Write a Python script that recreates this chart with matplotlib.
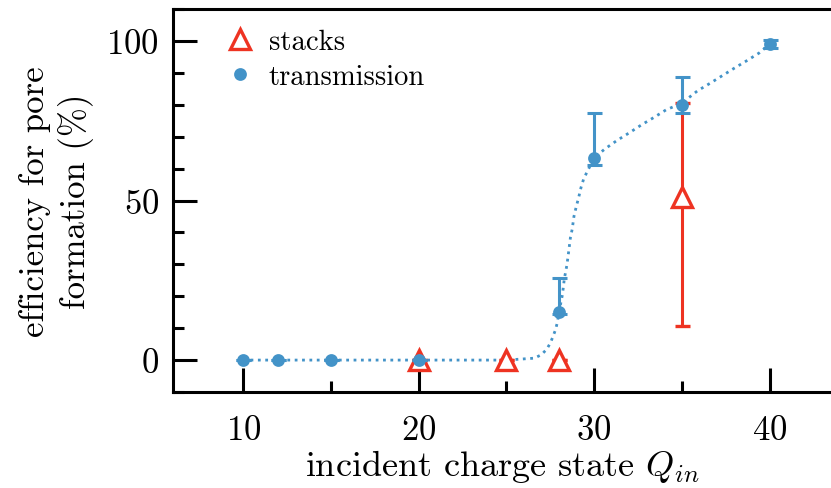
import matplotlib
matplotlib.use('Agg')
import matplotlib.pyplot as plt
from matplotlib.lines import Line2D
from matplotlib.ticker import MultipleLocator

# transmission measurements
trans_q = [10, 12, 15, 20, 28, 30, 35, 40]
trans_eff = [0, 0, 0, 0, 15, 63.3, 80, 99]
trans_err_lo = [0, 0, 0, 0, 0.6, 2.2, 2.6, 1.2]
trans_err_hi = [0, 0, 0, 0, 10.7, 14.1, 8.8, 1.2]

# stacks measurements
stack_q = [20, 25, 28, 35]
stack_eff = [0, 0, 0, 51]
stack_err_lo = [0, 0, 0, 40.4]
stack_err_hi = [0, 0, 0, 29.5]

# dotted guide curve
fit_q = [10, 15, 20, 25, 26.6, 27.0, 27.3, 27.5, 27.65, 27.8, 27.9, 28.0, 28.2, 28.3,
         28.45, 28.55, 28.65, 28.75, 28.85, 29.0, 29.1, 29.25, 29.4, 29.6, 30.0, 30.6,
         31.3, 32.0, 32.7, 33.4, 34.1, 35.0, 35.9, 36.6, 37.3, 38.0, 38.7, 39.4, 40.0]
fit_eff = [0, 0, 0, 0, 0.6, 1.7, 3.4, 5.3, 7.3, 9.5, 11.7, 15, 20.7, 25.4,
           29.8, 34, 38.4, 41, 45, 48.5, 50.5, 54, 56.7, 59, 63.3, 66.1,
           68.8, 71.2, 73.7, 76, 78.4, 80.5, 84.4, 86.7, 89.1, 91.5, 93.8, 96.2, 99]

blue = '#4393c8'
red = '#ee3322'

plt.rcParams['font.family'] = 'serif'
plt.rcParams['font.serif'] = ['cmr10']
plt.rcParams['mathtext.fontset'] = 'cm'
plt.rcParams['axes.formatter.use_mathtext'] = True

fig = plt.figure(figsize=(4.155, 2.445), dpi=200)
ax = fig.add_axes([173 / 831, 1 - 393 / 489, 658 / 831, 383 / 489])

ax.plot(fit_q, fit_eff, ':', color=blue, lw=1.0, zorder=2)

ax.errorbar(stack_q, stack_eff, yerr=[stack_err_lo, stack_err_hi], fmt='^',
            ms=7, mfc='white', mec=red, mew=1.2, ecolor=red, elinewidth=1.1,
            capsize=2.7, capthick=1.1, zorder=3)
ax.errorbar(trans_q, trans_eff, yerr=[trans_err_lo, trans_err_hi], fmt='o',
            ms=3.6, color=blue, ecolor=blue, elinewidth=1.1,
            capsize=2.7, capthick=1.1, zorder=4)

ax.set_xlim(6, 43.5)
ax.set_ylim(-10, 110)
ax.xaxis.set_major_locator(MultipleLocator(10))
ax.xaxis.set_minor_locator(MultipleLocator(5))
ax.yaxis.set_major_locator(MultipleLocator(50))
ax.yaxis.set_minor_locator(MultipleLocator(10))
ax.tick_params(which='both', direction='in', width=1.1, labelsize=12.5)
ax.tick_params(which='major', length=8.5)
ax.tick_params(which='minor', length=4)
ax.tick_params(axis='y', pad=5)
ax.tick_params(axis='x', pad=8)
for sp in ax.spines.values():
    sp.set_linewidth(1.1)
ax.spines['right'].set_visible(False)

ax.set_xlabel('incident charge state $Q_{in}$', fontsize=13, labelpad=0.5)
ax.set_ylabel('efficiency for pore\nformation (%)', fontsize=12.5, labelpad=4.6,
              linespacing=1.25)

handles = [
    Line2D([], [], ls='none', marker='^', ms=7, mfc='white', mec=red, mew=1.2),
    Line2D([], [], ls='none', marker='o', ms=3.6, color=blue),
]
ax.legend(handles, ['stacks', 'transmission'], loc='upper left', frameon=False,
          fontsize=10.3, handletextpad=0.25, handlelength=1.5, borderaxespad=0.3,
          labelspacing=0.3, bbox_to_anchor=(0.039, 1.0))

fig.savefig('out.png', dpi=200)
